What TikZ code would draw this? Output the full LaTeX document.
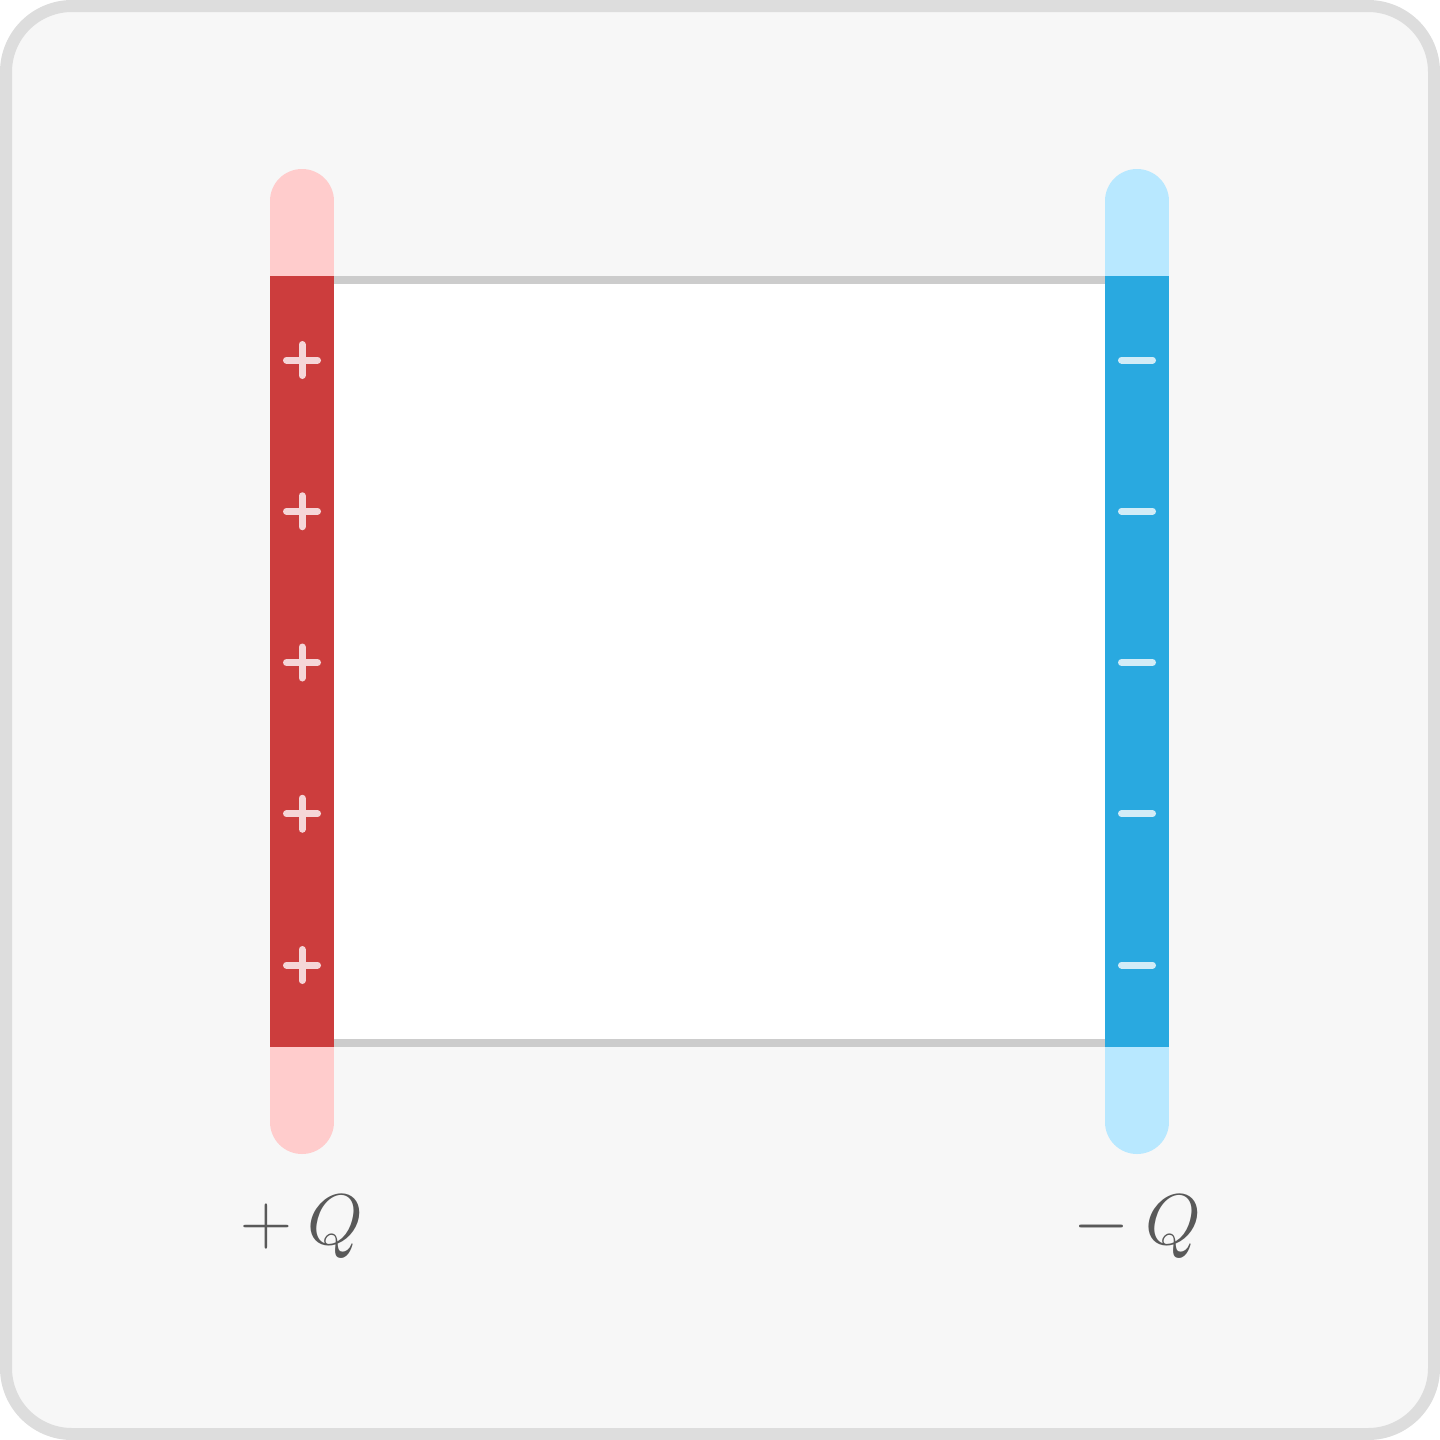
\RequirePackage{fix-cm}
\documentclass[tikz,border=0pt]{standalone}
\usepackage{amsmath}
\usepackage{tikz}
\usetikzlibrary{positioning}

\definecolor{framegray}{HTML}{DDDDDD}
\definecolor{panel}{HTML}{F7F7F7}
\definecolor{wiregray}{HTML}{CCCCCC}
\definecolor{posdark}{HTML}{CC3D3D}
\definecolor{poslight}{HTML}{FFCCCC}
\definecolor{negdark}{HTML}{29A9E0}
\definecolor{neglight}{HTML}{B8E8FF}
\definecolor{possign}{HTML}{F5D6D8}
\definecolor{negsign}{HTML}{D2ECF7}
\definecolor{labelgray}{HTML}{595959}

\begin{document}
\begin{tikzpicture}[
      x=1pt, y=-1pt,
      plate/.style={minimum width=64pt, minimum height=771pt,
                    inner sep=0pt, outer sep=0pt},
      tube/.style={line width=64pt, line cap=round},
      wire/.style={draw=wiregray, line width=8pt},
      chargesign/.style={line width=7pt, line cap=round},
      qlabel/.style={text=labelgray, anchor=base,
                     font=\fontsize{72}{80}\selectfont}
    ]
    \useasboundingbox (0,0) rectangle (1440,1440);

    % panel
    \draw[framegray, fill=panel, line width=12pt, rounded corners=66pt]
      (6,6) rectangle (1434,1434);

    % light ends of the plates
    \draw[tube, poslight] (302,201) -- (302,1122);
    \draw[tube, neglight] (1137,201) -- (1137,1122);

    % plates
    \node[plate, fill=posdark] (lplate) at (302,661.5) {};
    \node[plate, fill=negdark] (rplate) at (1137,661.5) {};

    % gap between the plates
    \fill[white] (lplate.north east) rectangle (rplate.south west);
    \draw[wire] ([yshift=-4pt]lplate.north east) -- ([yshift=-4pt]rplate.north west);
    \draw[wire] ([yshift=4pt]lplate.south east) -- ([yshift=4pt]rplate.south west);

    % charges
    \foreach \y in {360,511.25,662.5,813.75,965} {
      \draw[chargesign, possign] (286.5,\y) -- (317.5,\y)
                                 (302,\y-15.5) -- (302,\y+15.5);
      \draw[chargesign, negsign] (1121.5,\y) -- (1152.5,\y);
    }

    % labels
    \node[qlabel] (posq) at (302,1244) {$+\:Q$};
    \node[qlabel] (negq) at (1137,1244) {$-\:Q$};
  \end{tikzpicture}
\end{document}
